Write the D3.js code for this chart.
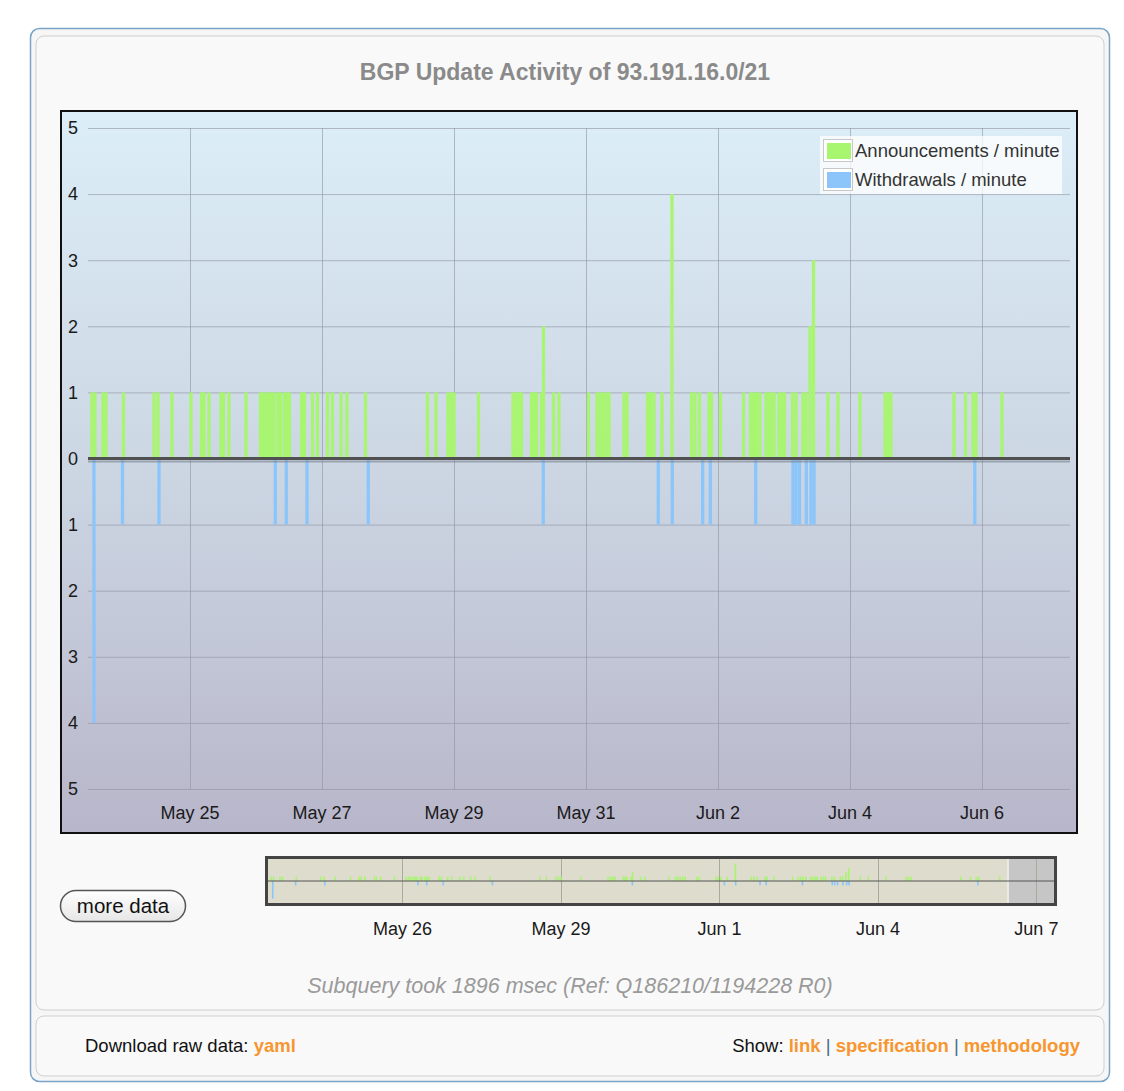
<!DOCTYPE html>
<html>
<head>
<meta charset="utf-8">
<script src="https://cdn.jsdelivr.net/npm/d3@7"></script>
<style>
  body { margin: 0; background: #fff; }
  svg text { font-family: "Liberation Sans", Arial, Helvetica, sans-serif; }
</style>
</head>
<body>
<svg id="chart" width="1124" height="1091"></svg>
<script>
// time span shown, and the range picked in the overview
var viewRange = ["05-23 10:55", "06-07 08:00"];
var selectionEnd = "06-06 11:07";

// updates per minute (time of the minute, count)
var announcements = [
  ["05-23 12:22",1],["05-23 13:27",1],["05-23 16:22",1],["05-23 17:27",1],["05-23 23:49",1],
  ["05-24 10:55",1],["05-24 12:22",1],["05-24 17:27",1],
  ["05-25 00:22",1],["05-25 04:11",1],["05-25 05:05",1],["05-25 06:55",1],["05-25 11:16",1],
  ["05-25 12:11",1],["05-25 14:11",1],["05-25 20:22",1],
  ["05-26 01:38",1],["05-26 02:44",1],["05-26 03:38",1],["05-26 04:44",1],["05-26 05:38",1],
  ["05-26 06:33",1],["05-26 08:00",1],["05-26 08:55",1],["05-26 10:22",1],["05-26 11:16",1],
  ["05-26 12:11",1],["05-26 16:33",1],["05-26 17:38",1],["05-26 20:33",1],["05-26 22:22",1],
  ["05-27 02:00",1],["05-27 03:49",1],["05-27 06:55",1],["05-27 09:05",1],["05-27 15:49",1],
  ["05-28 14:22",1],["05-28 17:27",1],["05-28 21:49",1],["05-28 22:55",1],
  ["05-29 00:00",1],["05-29 08:55",1],["05-29 21:27",1],["05-29 22:33",1],["05-29 23:38",1],
  ["05-30 00:33",1],["05-30 04:11",1],["05-30 05:05",1],["05-30 06:00",1],["05-30 07:49",1],
  ["05-30 08:33",2],["05-30 12:11",1],["05-30 14:11",1],
  ["05-31 00:55",1],["05-31 04:00",1],["05-31 05:05",1],["05-31 06:11",1],["05-31 07:16",1],
  ["05-31 08:22",1],["05-31 13:49",1],["05-31 14:55",1],["05-31 22:22",1],["05-31 23:27",1],
  ["06-01 00:44",1],["06-01 03:38",1],["06-01 07:16",4],["06-01 14:22",1],["06-01 15:38",1],
  ["06-01 17:16",1],["06-01 20:44",1],["06-01 21:38",1],
  ["06-02 00:55",1],["06-02 09:16",1],["06-02 11:49",1],["06-02 12:55",1],["06-02 14:00",1],
  ["06-02 15:16",1],["06-02 17:27",1],["06-02 18:33",1],["06-02 19:38",1],["06-02 20:22",1],
  ["06-02 22:11",1],["06-02 23:16",1],
  ["06-03 00:11",1],["06-03 03:05",1],["06-03 04:22",1],["06-03 06:55",1],["06-03 08:00",1],
  ["06-03 09:27",2],["06-03 10:44",3],["06-03 16:00",1],["06-03 19:38",1],
  ["06-04 03:38",1],["06-04 12:44",1],["06-04 13:49",1],["06-04 14:55",1],
  ["06-05 13:49",1],["06-05 18:00",1],["06-05 20:44",1],["06-05 21:49",1],
  ["06-06 07:16",1]
];

var withdrawals = [
  ["05-23 13:05",4],["05-23 23:27",1],["05-24 12:44",1],["05-26 07:01",1],["05-26 11:01",1],
  ["05-26 18:33",1],["05-27 16:50",1],["05-30 08:28",1],["06-01 02:17",1],["06-01 07:23",1],
  ["06-01 18:26",1],["06-01 21:12",1],["06-02 13:43",1],["06-03 03:16",1],["06-03 04:22",1],
  ["06-03 05:38",1],["06-03 08:07",1],["06-03 09:49",1],["06-03 10:55",1],["06-05 21:23",1]
];

var yTicks = [-5, -4, -3, -2, -1, 0, 1, 2, 3, 4, 5];
var xTicks = ["05-25 00:00", "05-27 00:00", "05-29 00:00", "05-31 00:00", "06-02 00:00", "06-04 00:00", "06-06 00:00"];
var overviewTicks = ["05-26 00:00", "05-29 00:00", "06-01 00:00", "06-04 00:00", "06-07 00:00"];
var seriesNames = ["Announcements / minute", "Withdrawals / minute"];

var GREEN = "#a8f56f", BLUE = "#8cc5fa", ORANGE = "#f7962e";

var parse = d3.timeParse("%Y-%m-%d %H:%M");
function t(s) { return parse("2010-" + s); }
var fmt = d3.timeFormat("%b %-d");
var halfMin = 36 * 60 * 1000; // bars are drawn ~72 minutes wide so single minutes show up

var svg = d3.select("#chart");
var defs = svg.append("defs");

// ---- panels ----
svg.append("rect").attr("x", 30.5).attr("y", 28.5).attr("width", 1079).attr("height", 1053)
  .attr("rx", 9).attr("fill", "#f6f6f6").attr("stroke", "#7aa5c8").attr("stroke-width", 1.5);
svg.append("rect").attr("x", 36).attr("y", 36).attr("width", 1068).attr("height", 974)
  .attr("rx", 8).attr("fill", "#f9f9f9").attr("stroke", "#cfcfcf");
svg.append("rect").attr("x", 36).attr("y", 1016).attr("width", 1068).attr("height", 60)
  .attr("rx", 8).attr("fill", "#f9f9f9").attr("stroke", "#cfcfcf");

svg.append("text").attr("x", 565).attr("y", 72).attr("dy", "0.35em")
  .attr("text-anchor", "middle").attr("font-size", 23).attr("font-weight", "bold")
  .attr("fill", "#8a8a8a").text("BGP Update Activity of 93.191.16.0/21");

// ---- main chart ----
var bg = defs.append("linearGradient").attr("id", "bg").attr("x1", 0).attr("y1", 0).attr("x2", 0).attr("y2", 1);
bg.append("stop").attr("offset", "0%").attr("stop-color", "#dceef8");
bg.append("stop").attr("offset", "50%").attr("stop-color", "#ccd6e3");
bg.append("stop").attr("offset", "100%").attr("stop-color", "#b8b6ca");

svg.append("rect").attr("x", 61).attr("y", 111).attr("width", 1016).attr("height", 722)
  .attr("fill", "url(#bg)").attr("stroke", "#111").attr("stroke-width", 2);

var x = d3.scaleTime().domain(viewRange.map(t)).range([88, 1070]);
var y = d3.scaleLinear().domain([-5, 5]).range([789, 128]);

var grid = svg.append("g").attr("stroke", "#8d93a0").attr("stroke-opacity", 0.6).attr("stroke-width", 1);
grid.selectAll("line.h").data(yTicks).join("line").attr("class", "h")
  .attr("x1", x.range()[0]).attr("x2", x.range()[1])
  .attr("y1", function(d) { return y(d) + 0.5; }).attr("y2", function(d) { return y(d) + 0.5; });
grid.selectAll("line.v").data(xTicks.map(t)).join("line").attr("class", "v")
  .attr("y1", y(5)).attr("y2", y(-5))
  .attr("x1", function(d) { return Math.round(x(d)) + 0.5; })
  .attr("x2", function(d) { return Math.round(x(d)) + 0.5; });

svg.append("g").selectAll("text").data(yTicks).join("text")
  .attr("x", 73).attr("y", function(d) { return y(d); }).attr("dy", "0.35em")
  .attr("text-anchor", "middle").attr("font-size", 18).attr("fill", "#1a1a1a")
  .text(function(d) { return Math.abs(d); });

svg.append("g").selectAll("text").data(xTicks.map(t)).join("text")
  .attr("x", function(d) { return x(d); }).attr("y", 813).attr("dy", "0.35em")
  .attr("text-anchor", "middle").attr("font-size", 18).attr("fill", "#1a1a1a")
  .text(fmt);

function barX(d, sc) { return sc(new Date(+t(d[0]) - halfMin)); }
function barW(d, sc) { return sc(new Date(+t(d[0]) + halfMin)) - sc(new Date(+t(d[0]) - halfMin)); }

svg.append("g").selectAll("rect").data(announcements).join("rect")
  .attr("x", function(d) { return barX(d, x); })
  .attr("width", function(d) { return barW(d, x); })
  .attr("y", function(d) { return y(d[1]); })
  .attr("height", function(d) { return y(0) - y(d[1]); })
  .attr("fill", GREEN);
svg.append("g").selectAll("rect").data(withdrawals).join("rect")
  .attr("x", function(d) { return barX(d, x); })
  .attr("width", function(d) { return barW(d, x); })
  .attr("y", y(0))
  .attr("height", function(d) { return y(-d[1]) - y(0); })
  .attr("fill", BLUE);

// zero line with a soft shadow
svg.append("line").attr("x1", 88).attr("x2", 1070).attr("y1", y(0) + 3).attr("y2", y(0) + 3)
  .attr("stroke", "#7a7f8c").attr("stroke-width", 2).attr("stroke-opacity", 0.6);
svg.append("line").attr("x1", 88).attr("x2", 1070).attr("y1", y(0)).attr("y2", y(0))
  .attr("stroke", "#505050").attr("stroke-width", 3);

// legend
var lg = svg.append("g").attr("transform", "translate(820,136)");
lg.append("rect").attr("width", 242).attr("height", 58).attr("fill", "#fff").attr("fill-opacity", 0.75);
lg.selectAll("g").data(seriesNames).join("g")
  .attr("transform", function(d, i) { return "translate(0," + (i * 29) + ")"; })
  .each(function(d, i) {
    var g = d3.select(this);
    g.append("rect").attr("x", 3.5).attr("y", 3.5).attr("width", 29).attr("height", 22)
      .attr("fill", "#fff").attr("stroke", "#c8c8c8");
    g.append("rect").attr("x", 7).attr("y", 7).attr("width", 24).attr("height", 16)
      .attr("fill", i === 0 ? GREEN : BLUE);
    g.append("text").attr("x", 35).attr("y", 15).attr("dy", "0.35em")
      .attr("font-size", 18.5).attr("fill", "#333").text(d);
  });

// ---- overview ----
var ox = d3.scaleTime().domain(viewRange.map(t)).range([268, 1054]);
var oy = d3.scaleLinear().domain([-5, 5]).range([903, 859]);

svg.append("rect").attr("x", 267).attr("y", 858).attr("width", 788).attr("height", 46).attr("fill", "#c6c6c6");
svg.append("rect").attr("x", 268).attr("y", 859).attr("width", ox(t(selectionEnd)) - 268).attr("height", 44)
  .attr("fill", "#dddccd");
svg.append("line").attr("x1", ox(t(selectionEnd))).attr("x2", ox(t(selectionEnd)))
  .attr("y1", 859).attr("y2", 903).attr("stroke", "#f2f2ea").attr("stroke-width", 1.5);
svg.append("g").selectAll("line").data(overviewTicks.map(t)).join("line")
  .attr("x1", function(d) { return Math.round(ox(d)) + 0.5; })
  .attr("x2", function(d) { return Math.round(ox(d)) + 0.5; })
  .attr("y1", 859).attr("y2", 903).attr("stroke", "#a9a9a0").attr("stroke-width", 1);
svg.append("g").selectAll("rect").data(announcements).join("rect")
  .attr("x", function(d) { return ox(t(d[0])) - 0.8; }).attr("width", 1.6)
  .attr("y", function(d) { return oy(d[1]); })
  .attr("height", function(d) { return oy(0) - oy(d[1]); })
  .attr("fill", GREEN);
svg.append("g").selectAll("rect").data(withdrawals).join("rect")
  .attr("x", function(d) { return ox(t(d[0])) - 0.8; }).attr("width", 1.6)
  .attr("y", oy(0))
  .attr("height", function(d) { return oy(-d[1]) - oy(0); })
  .attr("fill", BLUE);
svg.append("line").attr("x1", 268).attr("x2", 1054).attr("y1", oy(0)).attr("y2", oy(0))
  .attr("stroke", "#555").attr("stroke-width", 1.2);
svg.append("rect").attr("x", 266.5).attr("y", 857.5).attr("width", 789).attr("height", 47)
  .attr("fill", "none").attr("stroke", "#444").attr("stroke-width", 3);

svg.append("g").selectAll("text").data(overviewTicks.map(t)).join("text")
  .attr("x", function(d) { return ox(d); }).attr("y", 929).attr("dy", "0.35em")
  .attr("text-anchor", "middle").attr("font-size", 18).attr("fill", "#1a1a1a")
  .text(fmt);

// "more data" button
var btn = defs.append("linearGradient").attr("id", "btn").attr("x1", 0).attr("y1", 0).attr("x2", 0).attr("y2", 1);
btn.append("stop").attr("offset", "0%").attr("stop-color", "#ffffff");
btn.append("stop").attr("offset", "100%").attr("stop-color", "#e6e6e6");
svg.append("rect").attr("x", 60.5).attr("y", 890.5).attr("width", 125).attr("height", 31)
  .attr("rx", 15.5).attr("fill", "url(#btn)").attr("stroke", "#555").attr("stroke-width", 1.5);
svg.append("text").attr("x", 123).attr("y", 906).attr("dy", "0.35em")
  .attr("text-anchor", "middle").attr("font-size", 20.5).attr("fill", "#111").text("more data");

// query note
svg.append("text").attr("x", 570).attr("y", 985).attr("dy", "0.35em")
  .attr("text-anchor", "middle").attr("font-size", 21.5).attr("font-style", "italic")
  .attr("fill", "#9a9a9a").text("Subquery took 1896 msec (Ref: Q186210/1194228 R0)");

// footer
var f1 = svg.append("text").attr("x", 85).attr("y", 1046).attr("dy", "0.35em").attr("font-size", 18.5).attr("fill", "#111");
f1.append("tspan").text("Download raw data: ");
f1.append("tspan").attr("fill", ORANGE).attr("font-weight", "bold").text("yaml");

var f2 = svg.append("text").attr("x", 1080).attr("y", 1046).attr("dy", "0.35em").attr("text-anchor", "end")
  .attr("font-size", 18.5).attr("fill", "#111");
f2.append("tspan").text("Show: ");
f2.append("tspan").attr("fill", ORANGE).attr("font-weight", "bold").text("link");
f2.append("tspan").attr("fill", "#4a6a8a").text(" | ");
f2.append("tspan").attr("fill", ORANGE).attr("font-weight", "bold").text("specification");
f2.append("tspan").attr("fill", "#4a6a8a").text(" | ");
f2.append("tspan").attr("fill", ORANGE).attr("font-weight", "bold").text("methodology");
</script>
</body>
</html>
